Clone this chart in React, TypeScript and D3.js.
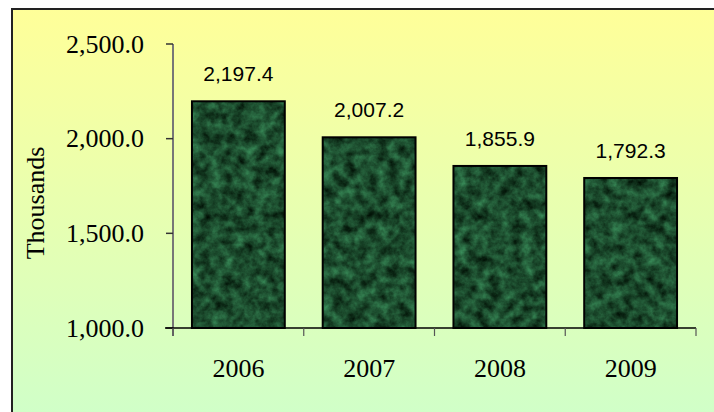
import React from 'react';
import * as d3 from 'd3';

// values in thousands
const years = ['2006', '2007', '2008', '2009'];
const values = [2197.4, 2007.2, 1855.9, 1792.3];
const yTicks = [1000, 1500, 2000, 2500];
const yLabel = 'Thousands';

const W = 714;
const H = 412;

const App = () => {
  const x = d3.scaleBand<string>().domain(years).range([173, 696]).padding(0);
  const y = d3.scaleLinear().domain([1000, 2500]).range([328, 44]);
  const barW = x.bandwidth() * 0.71;
  const fmt = d3.format(',.1f');
  const bounds = [...years.map((yr) => x(yr) as number), 696];

  const serif = '"Liberation Serif", serif';
  const sans = '"Liberation Sans", Arial, sans-serif';

  return (
    <svg width={W} height={H} style={{ position: 'absolute', left: 0, top: 0 }}>
      <defs>
        <linearGradient id="bg" x1="0" y1="0" x2="0" y2="1">
          <stop offset="0" stopColor="#ffff99" />
          <stop offset="1" stopColor="#ccffcc" />
        </linearGradient>
        <filter id="marble" x="0" y="0" width="1" height="1" colorInterpolationFilters="sRGB">
          <feTurbulence type="fractalNoise" baseFrequency="0.09" numOctaves="4" seed="7" result="noise" />
          <feColorMatrix
            in="noise"
            type="matrix"
            values="0.28 0 0 0 -0.03  0.62 0 0 0 -0.01  0.42 0 0 0 -0.03  0 0 0 0 1"
            result="col"
          />
          <feComposite in="col" in2="SourceGraphic" operator="in" />
        </filter>
      </defs>

      {/* chart area, clipped on the right and bottom like the original */}
      <rect x={12} y={9} width={760} height={440} fill="url(#bg)" stroke="#222" strokeWidth={2} />

      {/* bars */}
      {years.map((yr, i) => {
        const cx = (x(yr) as number) + x.bandwidth() / 2;
        return (
          <g key={yr}>
            <rect x={cx - barW / 2} y={y(values[i])} width={barW} height={y(1000) - y(values[i])}
              fill="#1b5a33" filter="url(#marble)" />
            <rect x={cx - barW / 2} y={y(values[i])} width={barW} height={y(1000) - y(values[i])}
              fill="none" stroke="#000" strokeWidth={2} />
            <text x={cx} y={y(values[i]) - 20} textAnchor="middle" fontFamily={sans} fontSize={21} fill="#000">
              {fmt(values[i])}
            </text>
            <text x={cx} y={377} textAnchor="middle" fontFamily={serif} fontSize={26} fill="#000">
              {yr}
            </text>
          </g>
        );
      })}

      {/* y axis */}
      <line x1={173} x2={173} y1={y(2500)} y2={336} stroke="#777" strokeWidth={2} />
      {yTicks.map((t) => (
        <g key={t}>
          <line x1={166} x2={173} y1={y(t)} y2={y(t)} stroke="#333" strokeWidth={1.5} />
          <text x={144} y={y(t) + 8.8} textAnchor="end" fontFamily={serif} fontSize={26} fill="#000">
            {fmt(t)}
          </text>
        </g>
      ))}

      {/* x axis */}
      <line x1={165} x2={696} y1={y(1000)} y2={y(1000)} stroke="#000" strokeWidth={1.5} />
      {bounds.map((b, i) => (
        <line key={i} x1={b} x2={b} y1={y(1000)} y2={336} stroke="#555" strokeWidth={1.2} />
      ))}

      <text transform="translate(44,203) rotate(-90)" textAnchor="middle" fontFamily={serif} fontSize={26} fill="#000">
        {yLabel}
      </text>
    </svg>
  );
};

export default App;
